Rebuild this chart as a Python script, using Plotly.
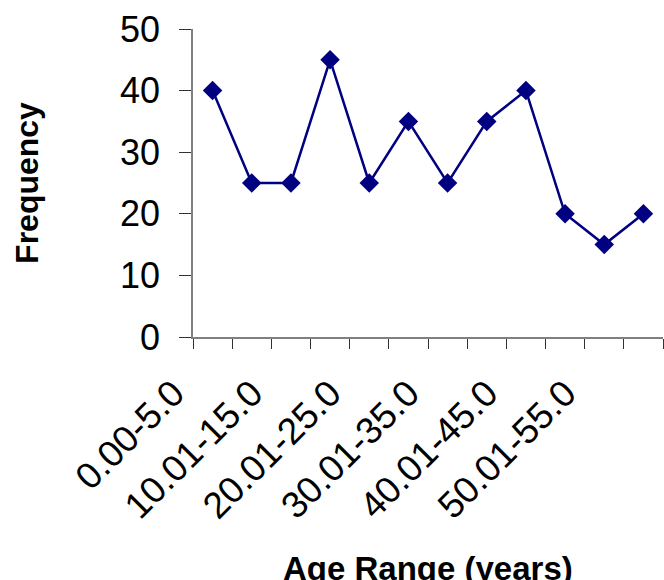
import plotly.graph_objects as go

AGE_RANGES = ["0.00-5.0", "5.01-10.0", "10.01-15.0", "15.01-20.0", "20.01-25.0",
              "25.01-30.0", "30.01-35.0", "35.01-40.0", "40.01-45.0", "45.01-50.0",
              "50.01-55.0", "55.01-60.0"]
FREQUENCY = [40, 25, 25, 45, 25, 35, 25, 35, 40, 20, 15, 20]
# Excel only printed every other category label
TICK_TEXT = [lbl if i % 2 == 0 else "" for i, lbl in enumerate(AGE_RANGES)]

FONT = "Arial, 'Liberation Sans', sans-serif"
NAVY = "#000080"
AXIS_GREY = "#808080"

# plot box in pixels: x 193..663, y 29..337
W, H = 664, 580
L, R, T, B = 193, 1, 29, 243

fig = go.Figure()
fig.add_trace(go.Scatter(
    x=AGE_RANGES, y=FREQUENCY,
    mode="lines+markers",
    line=dict(color=NAVY, width=2.5),
    marker=dict(symbol="diamond", size=15, color=NAVY),
    showlegend=False,
    hovertemplate="%{x}: %{y}<extra></extra>",
))

fig.update_layout(
    width=W, height=H,
    margin=dict(l=L, r=R, t=T, b=B, autoexpand=False),
    paper_bgcolor="white", plot_bgcolor="white",
    font=dict(family=FONT, color="black"),
    xaxis=dict(
        type="category",
        range=[-0.5, len(AGE_RANGES) - 0.5],
        tickson="boundaries",
        tickmode="array", tickvals=AGE_RANGES, ticktext=TICK_TEXT,
        tickangle=-45,
        tickfont=dict(size=37, family=FONT, color="black"),
        ticklabelshift=-39, ticklabelstandoff=18,
        ticks="outside", ticklen=10, tickcolor="#333", tickwidth=1,
        showline=True, linecolor=AXIS_GREY, linewidth=1.5,
        showgrid=False, zeroline=False, automargin=False,
    ),
    yaxis=dict(
        range=[0, 50], dtick=10,
        ticks="outside", ticklen=12, tickcolor="#333", tickwidth=1,
        tickfont=dict(size=36, family=FONT, color="black"),
        ticklabelstandoff=12,
        showline=True, linecolor=AXIS_GREY, linewidth=1.5,
        showgrid=False, zeroline=False, automargin=False,
        title=dict(text="<b>Frequency</b>", font=dict(size=32, family=FONT),
                   standoff=72),
    ),
    annotations=[dict(
        text="<b>Age Range (years)</b>",
        xref="paper", yref="paper",
        x=0.5, y=-(548 - 337) / (H - T - B),
        xanchor="center", yanchor="top",
        showarrow=False,
        font=dict(size=33, family=FONT, color="black"),
    )],
)

# page body has an 8px default margin; drop it so the figure sits at 0,0
fig.write_html("out.html", config={"displayModeBar": False},
               post_script="document.body.style.margin='0';")
